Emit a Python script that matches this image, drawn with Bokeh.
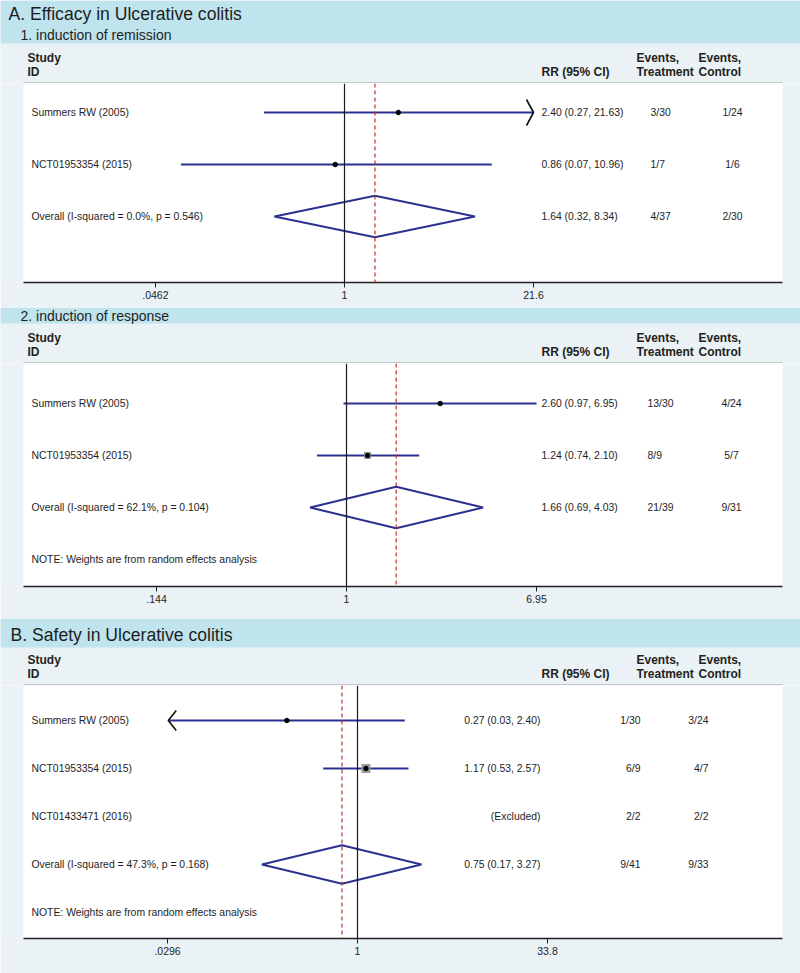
import math
from bokeh.plotting import figure
from bokeh.models import Range1d, FixedTicker, Span, CustomJSTickFormatter
from bokeh.layouts import column
from bokeh.core.properties import value
from bokeh.embed import file_html
from bokeh.resources import INLINE

# ---------------- data ----------------
# A1: Efficacy - induction of remission
a1_studies = ["Summers RW (2005)", "NCT01953354 (2015)"]
a1_rr = [2.40, 0.86]
a1_lo = [0.27, 0.07]
a1_hi = [21.63, 10.96]
a1_treat = ["3/30", "1/7"]
a1_ctrl = ["1/24", "1/6"]
a1_overall = [1.64, 0.32, 8.34]
a1_overall_label = "Overall  (I-squared = 0.0%, p = 0.546)"
a1_overall_treat = "4/37"
a1_overall_ctrl = "2/30"
a1_ticks = [0.0462, 1, 21.6]
a1_tick_labels = [".0462", "1", "21.6"]

# A2: Efficacy - induction of response
a2_studies = ["Summers RW (2005)", "NCT01953354 (2015)"]
a2_rr = [2.60, 1.24]
a2_lo = [0.97, 0.74]
a2_hi = [6.95, 2.10]
a2_treat = ["13/30", "8/9"]
a2_ctrl = ["4/24", "5/7"]
a2_overall = [1.66, 0.69, 4.03]
a2_overall_label = "Overall  (I-squared = 62.1%, p = 0.104)"
a2_overall_treat = "21/39"
a2_overall_ctrl = "9/31"
a2_ticks = [0.144, 1, 6.95]
a2_tick_labels = [".144", "1", "6.95"]

# B: Safety
b_studies = ["Summers RW (2005)", "NCT01953354 (2015)", "NCT01433471 (2016)"]
b_rr = [0.27, 1.17, None]
b_lo = [0.03, 0.53, None]
b_hi = [2.40, 2.57, None]
b_treat = ["1/30", "6/9", "2/2"]
b_ctrl = ["3/24", "4/7", "2/2"]
b_overall = [0.75, 0.17, 3.27]
b_overall_label = "Overall  (I-squared = 47.3%, p = 0.168)"
b_overall_treat = "9/41"
b_overall_ctrl = "9/33"
b_ticks = [0.0296, 1, 33.8]
b_tick_labels = [".0296", "1", "33.8"]

note_text = "NOTE: Weights are from random effects analysis"

# ---------------- style / layout ----------------
S = 1.0
W = 800
GREY = "#eaf2f5"
BLUE = "#bfe4ed"
NAVY = "#2b3190"
RED = "#cc2b2b"
TXT = "#1e1e1e"
FONT = value("Liberation Sans")


def fs(px):
    return "%.2fpx" % (px * S)


def header_fig(top, bottom, bands, texts, white_top):
    h = round(bottom * S) - round(top * S)
    p = figure(width=W, height=h, x_range=Range1d(0, 800), y_range=Range1d(bottom, top),
               output_backend="svg", toolbar_location=None, x_axis_location=None,
               y_axis_location=None, min_border=0, min_border_left=0, min_border_right=0,
               min_border_top=0, min_border_bottom=0, background_fill_color=GREY,
               border_fill_color=GREY, outline_line_color=None)
    p.grid.visible = False
    for b0, b1 in bands:
        p.quad(left=0, right=800, top=b0, bottom=b1, fill_color=BLUE, line_color=None)
    for (x, y, t, size) in texts:
        p.text(x=[x], y=[y], text=[t], text_font=FONT, text_font_size=fs(size),
               text_baseline="middle", text_align="left", text_color=TXT)
    # column headers
    hy1, hy2 = white_top - 26, white_top - 12
    hdr = [(27, hy1, "Study"), (27, hy2, "ID"), (541, hy2, "RR (95% CI)"),
           (636, hy1, "Events,"), (636, hy2, "Treatment"),
           (698, hy1, "Events,"), (698, hy2, "Control")]
    p.text(x=[a for a, b, c in hdr], y=[b for a, b, c in hdr], text=[c for a, b, c in hdr],
           text_font=FONT, text_font_size=fs(12), text_font_style="bold",
           text_baseline="middle", text_align="left", text_color="#222222")
    p.line(x=[23, 782], y=[white_top - 0.8, white_top - 0.8], line_color="#c4c8ca", line_width=1.5)
    return p


def plot_fig(cfg, studies, rr, lo, hi, treat, ctrl, overall, ov_label, ov_treat, ov_ctrl,
             ticks, tick_labels, boxes, arrows, note):
    x_one, x_hi = cfg["x_one"], cfg["x_hi"]
    k = (x_hi - x_one) / math.log(ticks[-1])

    def xv(px):
        return math.exp((px - x_one) / k)

    r0, pitch = cfg["first_row"], cfg["pitch"]

    def iv(py):
        return (py - r0) / pitch

    wt, wb, bot = cfg["white_top"], cfg["white_bottom"], cfg["bottom"]
    h = round(bot * S) - round(wt * S)
    mb = round(bot * S) - round(wb * S)
    p = figure(width=W, height=h, x_axis_type="log",
               x_range=Range1d(xv(0), xv(800)), y_range=Range1d(iv(wb), iv(wt)),
               output_backend="svg", toolbar_location=None, y_axis_location=None,
               min_border=0, min_border_left=0, min_border_right=0,
               min_border_top=0, min_border_bottom=mb,
               background_fill_color=GREY, border_fill_color=GREY,
               outline_line_color=None)
    p.grid.visible = False
    # white plotting region
    p.quad(left=xv(23), right=xv(782), top=iv(wt), bottom=iv(wb),
           fill_color="white", line_color=None)

    ax = p.xaxis[0]
    ax.bounds = (xv(23), xv(782))
    ax.ticker = FixedTicker(ticks=ticks)
    ax.formatter = CustomJSTickFormatter(args=dict(tv=ticks, tl=tick_labels), code="""
        for (let i = 0; i < tv.length; i++) {
            if (Math.abs(tv[i] - tick) <= 1e-9 * Math.max(1, Math.abs(tv[i]))) return tl[i];
        }
        return '';
    """)
    ax.minor_tick_line_color = None
    ax.major_tick_in = 0
    ax.major_tick_out = 5
    ax.major_tick_line_color = "#222222"
    ax.axis_line_color = "#222222"
    ax.axis_line_width = 1.3
    ax.major_label_text_font = "Liberation Sans"
    ax.major_label_text_font_size = fs(10.5)
    ax.major_label_text_color = TXT
    ax.major_label_standoff = 3

    est, olo, ohi = overall
    p.add_layout(Span(location=1, dimension="height", line_color="#1a1a1a", line_width=1.2))
    p.add_layout(Span(location=est, dimension="height", line_color=RED, line_width=1.2,
                      line_dash="4 3"))

    t_lo, t_hi = ticks[0], ticks[-1]
    n = len(studies)
    idx = list(range(n))
    ci = [i for i in idx if rr[i] is not None]
    x0 = [max(lo[i], t_lo) for i in ci]
    x1 = [min(hi[i], t_hi) for i in ci]
    p.segment(x0=x0, y0=ci, x1=x1, y1=ci, line_color=NAVY, line_width=2)
    bi = [i for i in ci if boxes[i] > 0]
    if bi:
        p.scatter(x=[rr[i] for i in bi], y=bi, marker="square", size=[boxes[i] * S for i in bi],
                  fill_color="#9c9c9c", line_color=None)
    p.scatter(x=[rr[i] for i in ci], y=ci, size=4.5, fill_color="black", line_color="black")

    # arrows (open chevrons) where CI runs past the axis
    axs, ays = [], []
    dx, dy = cfg["arrow_dx"], cfg["arrow_dy"] / pitch
    for i in ci:
        if arrows[i] == "right":
            tip = min(hi[i], t_hi)
            back = tip * math.exp(-dx / k)
            axs.append([back, tip, back]); ays.append([i - dy, i, i + dy])
        elif arrows[i] == "left":
            tip = max(lo[i], t_lo)
            back = tip * math.exp(dx / k)
            axs.append([back, tip, back]); ays.append([i - dy, i, i + dy])
    if axs:
        p.multi_line(xs=axs, ys=ays, line_color="#111111", line_width=1.6)

    oi = n
    p.patch(x=[olo, est, ohi, est, olo], y=[oi, oi - 0.4, oi, oi + 0.4, oi],
            fill_color=None, line_color=NAVY, line_width=2)

    # text columns
    labels = list(studies) + [ov_label]
    rows = idx + [oi]
    if note:
        labels.append(note_text)
        rows.append(oi + 1)
    p.text(x=[xv(31)] * len(rows), y=rows, text=labels, text_font=FONT,
           text_font_size=fs(10.4), text_baseline="middle", text_align="left", text_color=TXT)

    rr_txt = []
    for i in idx:
        if rr[i] is None:
            rr_txt.append("(Excluded)")
        else:
            rr_txt.append("%.2f (%.2f, %.2f)" % (rr[i], lo[i], hi[i]))
    rr_txt.append("%.2f (%.2f, %.2f)" % (est, olo, ohi))
    rrows = idx + [oi]
    p.text(x=[xv(cfg["rr_x"])] * len(rrows), y=rrows, text=rr_txt, text_font=FONT,
           text_font_size=fs(10.4), text_baseline="middle", text_align=cfg["rr_align"],
           text_color=TXT)
    p.text(x=[xv(cfg["tr_x"])] * len(rrows), y=rrows, text=list(treat) + [ov_treat],
           text_font=FONT, text_font_size=fs(10.4), text_baseline="middle",
           text_align=cfg["tr_align"], text_color=TXT)
    p.text(x=[xv(cfg["ct_x"])] * len(rrows), y=rrows, text=list(ctrl) + [ov_ctrl],
           text_font=FONT, text_font_size=fs(10.4), text_baseline="middle",
           text_align=cfg["ct_align"], text_color=TXT)
    return p


# ---------------- panels ----------------
h1 = header_fig(0, 83, [(0, 43)],
                [(8, 13, "A. Efficacy in Ulcerative colitis", 17.6),
                 (20, 34, "1. induction of remission", 14)], 83)
cfg1 = dict(x_one=344, x_hi=533, first_row=112, pitch=52, white_top=83, white_bottom=282,
            bottom=307, rr_x=541, rr_align="left", tr_x=650, tr_align="left",
            ct_x=732, ct_align="center", arrow_dx=7, arrow_dy=13)
p1 = plot_fig(cfg1, a1_studies, a1_rr, a1_lo, a1_hi, a1_treat, a1_ctrl, a1_overall,
              a1_overall_label, a1_overall_treat, a1_overall_ctrl, a1_ticks, a1_tick_labels,
              boxes=[0, 0], arrows=["right", None], note=False)

h2 = header_fig(307, 363, [(307, 323)],
                [(20, 315, "2. induction of response", 14)], 363)
cfg2 = dict(x_one=346, x_hi=536, first_row=403, pitch=52, white_top=363, white_bottom=586,
            bottom=618, rr_x=541, rr_align="left", tr_x=647, tr_align="left",
            ct_x=731, ct_align="center", arrow_dx=7, arrow_dy=13)
p2 = plot_fig(cfg2, a2_studies, a2_rr, a2_lo, a2_hi, a2_treat, a2_ctrl, a2_overall,
              a2_overall_label, a2_overall_treat, a2_overall_ctrl, a2_ticks, a2_tick_labels,
              boxes=[3, 7], arrows=[None, None], note=True)

h3 = header_fig(618, 685, [(618, 647)],
                [(10, 634, "B. Safety in Ulcerative colitis", 17.6)], 685)
cfg3 = dict(x_one=357, x_hi=547, first_row=720, pitch=48, white_top=685, white_bottom=938,
            bottom=973, rr_x=540, rr_align="right", tr_x=640, tr_align="right",
            ct_x=708, ct_align="right", arrow_dx=8, arrow_dy=10)
p3 = plot_fig(cfg3, b_studies, b_rr, b_lo, b_hi, b_treat, b_ctrl, b_overall,
              b_overall_label, b_overall_treat, b_overall_ctrl, b_ticks, b_tick_labels,
              boxes=[0, 9, 0], arrows=["left", None, None], note=True)

layout = column(h1, p1, h2, p2, h3, p3, spacing=0)
open("out.html", "w").write(file_html(layout, INLINE))
